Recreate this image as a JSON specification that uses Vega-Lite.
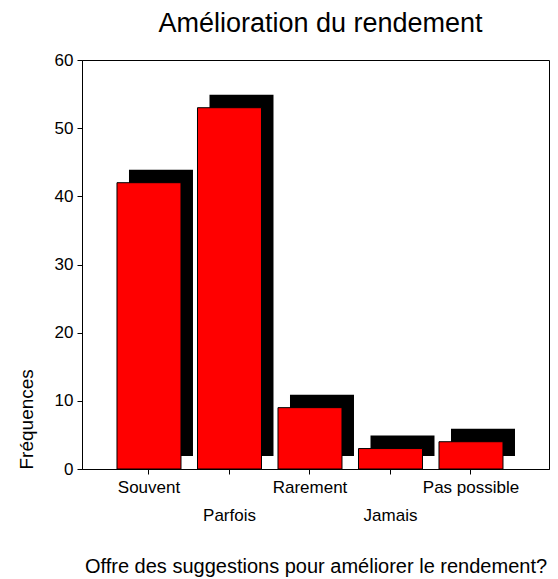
{
  "$schema": "https://vega.github.io/schema/vega-lite/v6.json",
  "width": 467,
  "height": 409,
  "autosize": "none",
  "padding": {"left": 82, "top": 60, "right": 9, "bottom": 110},
  "background": "white",
  "title": {
    "text": "Amélioration du rendement",
    "fontSize": 27,
    "font": "Liberation Sans",
    "fontWeight": "normal",
    "color": "black",
    "baseline": "alphabetic",
    "offset": -8,
    "dx": 5
  },
  "config": {
    "view": {"stroke": "black", "strokeWidth": 1},
    "axis": {
      "labelFont": "Liberation Sans",
      "titleFont": "Liberation Sans",
      "labelColor": "black",
      "titleColor": "black",
      "tickColor": "black",
      "domainColor": "black",
      "grid": false,
      "titleFontWeight": "normal"
    }
  },
  "data": {
    "values": [
      {"cat": "Souvent", "n": 42},
      {"cat": "Parfois", "n": 53},
      {"cat": "Rarement", "n": 9},
      {"cat": "Jamais", "n": 3},
      {"cat": "Pas possible", "n": 4}
    ]
  },
  "encoding": {
    "x": {
      "field": "cat",
      "type": "nominal",
      "sort": null,
      "scale": {"paddingInner": 0.205, "paddingOuter": 0.503, "align": 0.432},
      "axis": {
        "labelAngle": 0,
        "labelFontSize": 17,
        "tickSize": 5,
        "labelPadding": {"condition": {"test": "datum.value === 'Parfois' || datum.value === 'Jamais'", "value": 33}, "value": 5},
        "title": "Offre des suggestions pour améliorer le rendement?",
        "titleFontSize": 20,
        "titleY": 103,
        "titleBaseline": "alphabetic"
      }
    },
    "y": {
      "field": "n",
      "type": "quantitative",
      "scale": {"domain": [0, 60]},
      "axis": {
        "values": [0, 10, 20, 30, 40, 50, 60],
        "labelFontSize": 17,
        "tickSize": 5,
        "labelPadding": 4,
        "title": "Fréquences",
        "titleFontSize": 19,
        "titleAngle": 270,
        "titleX": -50,
        "titleY": 409,
        "titleAlign": "left",
        "titleBaseline": "alphabetic"
      }
    }
  },
  "layer": [
    {"mark": {"type": "bar", "color": "black", "xOffset": 12, "yOffset": -13, "y2Offset": -13}},
    {"mark": {"type": "bar", "fill": "#ff0000", "stroke": "black", "strokeWidth": 1}}
  ]
}
